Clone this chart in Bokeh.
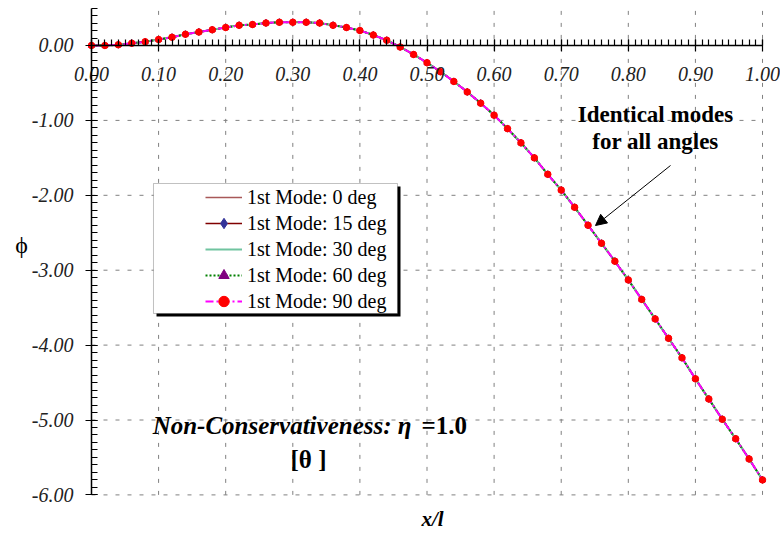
from bokeh.plotting import figure
from bokeh.models import (Range1d, FixedTicker, PrintfTickFormatter, Legend, LegendItem,
                          Label, Arrow, NormalHead, BoxAnnotation)
from bokeh.embed import file_html
from bokeh.resources import INLINE

# ---- data ----
x_over_l = [0.00, 0.02, 0.04, 0.06, 0.08, 0.10, 0.12, 0.14, 0.16, 0.18,
            0.20, 0.22, 0.24, 0.26, 0.28, 0.30, 0.32, 0.34, 0.36, 0.38,
            0.40, 0.42, 0.44, 0.46, 0.48, 0.50, 0.52, 0.54, 0.56, 0.58,
            0.60, 0.62, 0.64, 0.66, 0.68, 0.70, 0.72, 0.74, 0.76, 0.78,
            0.80, 0.82, 0.84, 0.86, 0.88, 0.90, 0.92, 0.94, 0.96, 0.98, 1.00]

phi_0deg = [0.00, 0.00, 0.01, 0.03, 0.05, 0.08, 0.11, 0.15, 0.18, 0.21,
            0.24, 0.27, 0.28, 0.30, 0.31, 0.31, 0.31, 0.30, 0.27, 0.24,
            0.20, 0.14, 0.07, -0.02, -0.12, -0.23, -0.35, -0.48, -0.62, -0.77,
            -0.93, -1.11, -1.30, -1.50, -1.72, -1.93, -2.16, -2.40, -2.64, -2.88,
            -3.13, -3.39, -3.65, -3.91, -4.17, -4.45, -4.72, -4.99, -5.25, -5.52, -5.80]
phi_15deg = list(phi_0deg)
phi_30deg = list(phi_0deg)
phi_60deg = list(phi_0deg)
phi_90deg = list(phi_0deg)

series_labels = ["1st Mode: 0 deg", "1st Mode: 15 deg", "1st Mode: 30 deg",
                 "1st Mode: 60 deg", "1st Mode: 90 deg"]

x_ticks = [0.0, 0.1, 0.2, 0.3, 0.4, 0.5, 0.6, 0.7, 0.8, 0.9, 1.0]
y_ticks = [-6.0, -5.0, -4.0, -3.0, -2.0, -1.0, 0.0]
y_axis_top = 0.5

SERIF = "Liberation Serif"
W, H = 780, 532

p = figure(width=W, height=H, output_backend="svg", toolbar_location=None, title=None,
           x_range=Range1d(-0.1356, 1.0268), y_range=Range1d(-6.502, 0.6008),
           min_border=0)
p.outline_line_color = None
p.background_fill_color = "white"
p.border_fill_color = "white"
p.xgrid.visible = False
p.ygrid.visible = False

x_minor = [round(i * 0.01, 2) for i in range(101)]
y_minor = [round(-6.0 + 0.1 * i, 1) for i in range(66)]
xt = FixedTicker(ticks=x_ticks, minor_ticks=x_minor)
yt = FixedTicker(ticks=y_ticks, minor_ticks=y_minor)

for ax, t in ((p.xaxis, xt), (p.yaxis, yt)):
    ax.ticker = t
    ax.formatter = PrintfTickFormatter(format="%.2f")
    ax.major_label_text_font = SERIF
    ax.major_label_text_font_style = "italic"
    ax.major_label_text_font_size = "20px"
    ax.major_label_text_color = "#222222"
    ax.axis_line_color = "black"
    ax.axis_line_width = 1.5
    ax.major_tick_in = 6
    ax.major_tick_out = 6
    ax.minor_tick_in = 6
    ax.minor_tick_out = 0
    ax.major_tick_line_color = "black"
    ax.minor_tick_line_color = "black"
    ax.major_tick_line_width = 1.2
    ax.minor_tick_line_width = 1.2
    ax.fixed_location = 0

p.xaxis.bounds = (x_ticks[0], x_ticks[-1])
p.yaxis.bounds = (y_ticks[0], y_axis_top)
p.xaxis.major_label_standoff = 16
p.yaxis.major_label_standoff = 12

# ---- dashed grid (from the tick lists) ----
vx = x_ticks[1:]
p.segment(x0=vx, y0=[y_ticks[0]] * len(vx), x1=vx, y1=[y_axis_top] * len(vx),
          line_color="#808080", line_dash="4 8", line_width=1)
hy = y_ticks[:-1]
p.segment(x0=[x_ticks[0]] * len(hy), y0=hy, x1=[x_ticks[-1]] * len(hy), y1=hy,
          line_color="#808080", line_dash="4 8", line_width=1)

# ---- series ----
r0 = p.line(x_over_l, phi_0deg, line_color="#A85858", line_width=1.5)
r15l = p.line(x_over_l, phi_15deg, line_color="#800000", line_width=1.5)
r15m = p.scatter(x_over_l, phi_15deg, marker="diamond", size=7,
                 fill_color="#333399", line_color="#333399")
r30 = p.line(x_over_l, phi_30deg, line_color="#70C4A0", line_width=2)
r60l = p.line(x_over_l, phi_60deg, line_color="#008000", line_width=2, line_dash="2 2")
r60m = p.scatter(x_over_l, phi_60deg, marker="triangle", size=6,
                 fill_color="#800080", line_color="#800080")
r90l = p.line(x_over_l, phi_90deg, line_color="#FF00FF", line_width=2, line_dash="8 3 2 3")
r90m = p.scatter(x_over_l, phi_90deg, marker="circle", size=6.5,
                 fill_color="#FF0000", line_color="#FF0000")

# ---- legend box with shadow ----
shadow = BoxAnnotation(left=0.0969, right=0.4605, top=-1.8826, bottom=-3.618,
                       fill_color="black", fill_alpha=1.0, line_alpha=0)
box = BoxAnnotation(left=0.0924, right=0.4560, top=-1.8425, bottom=-3.578,
                    fill_color="white", fill_alpha=1.0, line_color="#333333", line_width=1)
p.add_layout(shadow)
p.add_layout(box)

legend = Legend(items=[
    LegendItem(label=series_labels[0], renderers=[r0]),
    LegendItem(label=series_labels[1], renderers=[r15l, r15m]),
    LegendItem(label=series_labels[2], renderers=[r30]),
    LegendItem(label=series_labels[3], renderers=[r60l, r60m]),
    LegendItem(label=series_labels[4], renderers=[r90l, r90m]),
], location=(205, H - 314), padding=0, margin=0, spacing=0,
    glyph_width=37, glyph_height=26, label_height=26, label_standoff=5,
    border_line_alpha=0, background_fill_alpha=0,
    label_text_font=SERIF, label_text_font_size="20px", label_text_color="black")
p.add_layout(legend, "center")

# ---- texts ----
def lab(x, y, text, size, style="normal", align="center"):
    p.add_layout(Label(x=x, y=y, text=text, text_font=SERIF, text_font_size=size,
                       text_font_style=style, text_align=align, text_baseline="middle",
                       text_color="black"))

lab(0.8405, -0.921, "Identical modes", "23px", "bold")
lab(0.8405, -1.282, "for all angles", "23px", "bold")
lab(0.4769, -5.073, "Non-Conservativeness: \u03b7", "25px", "bold italic", "right")
lab(0.4918, -5.073, "=1.0", "25px", "bold", "left")
lab(0.3234, -5.527, "[\u03b8 ]", "25px", "bold")
lab(0.5082, -6.328, "x/l", "21px", "bold italic")
lab(-0.1043, -2.670, "\u03d5", "24px", "normal")

p.add_layout(Arrow(x_start=0.8629, y_start=-1.602, x_end=0.7511, y_end=-2.403,
                   line_color="black", line_width=1,
                   end=NormalHead(size=11, fill_color="black", line_color="black")))

open("out.html", "w").write(file_html(p, INLINE))
